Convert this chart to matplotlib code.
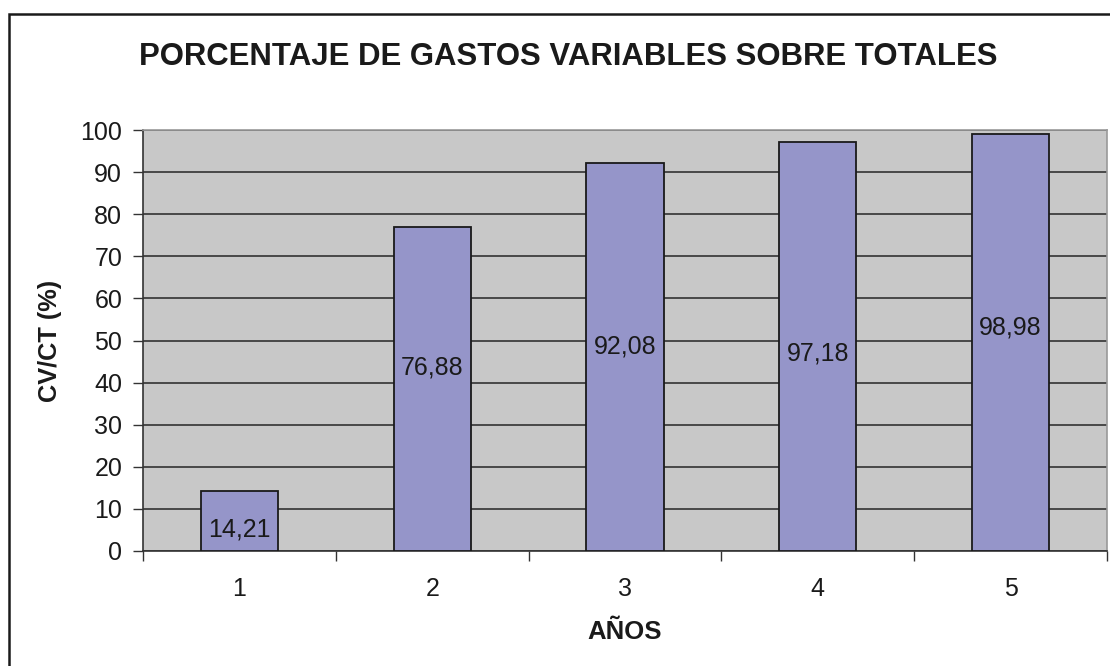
import matplotlib
matplotlib.use("Agg")
import matplotlib.pyplot as plt
from matplotlib.patches import Rectangle

plt.rcParams['font.family'] = ['Liberation Sans', 'DejaVu Sans']

# Data
years = ["1", "2", "3", "4", "5"]
cv_ct = [14.21, 76.88, 92.08, 97.18, 98.98]
value_labels = ["14,21", "76,88", "92,08", "97,18", "98,98"]
y_ticks = [0, 10, 20, 30, 40, 50, 60, 70, 80, 90, 100]

# Heights at which the value labels sit inside each bar
label_heights = [5.0, 43.7, 48.5, 47.0, 53.2]

W, H = 1110, 666
fig = plt.figure(figsize=(W / 100, H / 100), dpi=100)
fig.patch.set_facecolor("white")

# Outer chart frame
fig.patches.append(Rectangle((9 / W, -0.1), 1.2, 1 - 14 / H + 0.1,
                             transform=fig.transFigure, fill=False,
                             edgecolor="#1a1a1a", linewidth=1.8))

left, right, top, bottom = 143, 1107, 130, 551
ax = fig.add_axes([left / W, 1 - bottom / H, (right - left) / W, (bottom - top) / H])
ax.set_facecolor("#C8C8C8")

x = list(range(len(years)))
ax.bar(x, cv_ct, width=0.4, color="#9595C9", edgecolor="#1a1a1a", linewidth=1.3, zorder=3)

for xi, lab, hy in zip(x, value_labels, label_heights):
    ax.text(xi, hy, lab, ha="center", va="center", fontsize=18, color="#1a1a1a", zorder=4)

ax.set_xlim(-0.5, len(years) - 0.5)
ax.set_ylim(0, 100)
ax.set_yticks(y_ticks)
ax.set_yticklabels([str(t) for t in y_ticks])
ax.yaxis.grid(True, color="#333333", linewidth=1.2, zorder=1)
ax.set_axisbelow(True)

# Category ticks sit on the boundaries between years
ax.set_xticks([i - 0.5 for i in range(len(years) + 1)], minor=False)
ax.set_xticklabels([""] * (len(years) + 1))
ax.set_xticks(x, minor=True)
ax.set_xticklabels(years, minor=True)
ax.tick_params(axis="x", which="major", length=7, width=1.0, color="#333333", direction="out")
ax.tick_params(axis="x", which="minor", length=0, pad=19, labelsize=18, labelcolor="#1a1a1a")
ax.tick_params(axis="y", length=7, width=1.0, color="#333333", direction="out",
               labelsize=18, labelcolor="#1a1a1a", pad=8)

for side in ("top", "right"):
    ax.spines[side].set_color("#999999")
    ax.spines[side].set_linewidth(1.2)
for side in ("left", "bottom"):
    ax.spines[side].set_color("#333333")
    ax.spines[side].set_linewidth(1.2)

fig.text(568 / W, 1 - 57 / H, "PORCENTAJE DE GASTOS VARIABLES SOBRE TOTALES",
         ha="center", va="center", fontsize=22.4, fontweight="bold", color="#1a1a1a")
fig.text(625 / W, 1 - 632 / H, "AÑOS", ha="center", va="center",
         fontsize=18.5, fontweight="bold", color="#1a1a1a")
fig.text(50 / W, 1 - 341 / H, "CV/CT (%)", ha="center", va="center", rotation=90,
         fontsize=18.3, fontweight="bold", color="#1a1a1a")

fig.savefig("out.png", dpi=100, facecolor="white")
